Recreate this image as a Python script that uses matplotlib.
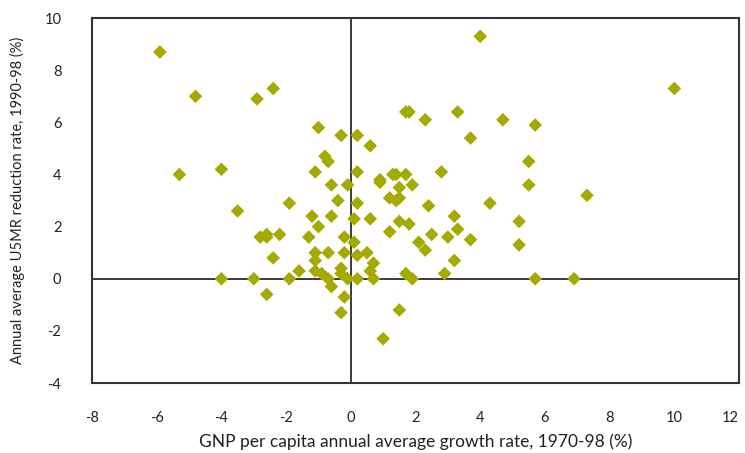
import matplotlib.pyplot as plt

# GNP growth 1970-98 vs U5MR reduction 1990-98, one point per country
gnp_growth = [
    -5.9, -4.8, -2.9, -2.4, -1.0, -0.3, 0.2, -0.8, -0.7, -1.1,
    -5.3, -4.0, 0.2, -0.6, -0.1, 4.0, 10.0, 1.7, 1.8, 2.3,
    3.3, 4.7, 5.7, 3.7, 0.6, 5.5, 1.3, 1.4, 1.7, 2.8,
    0.9, 0.9, 1.5, 1.9, 5.5, 7.3, -1.9, -3.5, -0.4, 0.2,
    -1.2, -0.6, -1.0, 0.1, -2.8, -2.6, -2.6, -2.2, -1.3, -0.2,
    0.1, -1.1, -0.7, -0.2, 0.2, -2.4, -1.1, -1.6, -1.1, -0.9,
    -0.3, -0.3, -0.7, -0.1, 0.2, -4.0, -3.0, -1.9, -0.6, -2.6,
    -0.2, -0.3, 1.2, 1.4, 1.5, 2.4, 4.3, 0.6, 3.2, 1.5,
    1.8, 5.2, 3.3, 1.2, 2.5, 3.0, 3.7, 2.1, 2.3, 5.2,
    0.5, 0.7, 0.6, 3.2, 1.7, 2.9, 0.7, 1.9, 5.7, 6.9,
    1.5, 1.0,
]
u5mr_reduction = [
    8.7, 7.0, 6.9, 7.3, 5.8, 5.5, 5.5, 4.7, 4.5, 4.1,
    4.0, 4.2, 4.1, 3.6, 3.6, 9.3, 7.3, 6.4, 6.4, 6.1,
    6.4, 6.1, 5.9, 5.4, 5.1, 4.5, 4.0, 4.0, 4.0, 4.1,
    3.8, 3.7, 3.5, 3.6, 3.6, 3.2, 2.9, 2.6, 3.0, 2.9,
    2.4, 2.4, 2.0, 2.3, 1.6, 1.7, 1.6, 1.7, 1.6, 1.6,
    1.4, 1.0, 1.0, 1.0, 0.9, 0.8, 0.7, 0.3, 0.3, 0.2,
    0.4, 0.2, 0.0, 0.0, 0.0, 0.0, 0.0, 0.0, -0.3, -0.6,
    -0.7, -1.3, 3.1, 3.0, 3.1, 2.8, 2.9, 2.3, 2.4, 2.2,
    2.1, 2.2, 1.9, 1.8, 1.7, 1.6, 1.5, 1.4, 1.1, 1.3,
    1.0, 0.6, 0.3, 0.7, 0.2, 0.2, 0.0, 0.0, 0.0, 0.0,
    -1.2, -2.3,
]

x_ticks = list(range(-8, 13, 2))
y_ticks = list(range(-4, 11, 2))

plt.rcParams['font.family'] = ['Lato', 'DejaVu Sans']
plt.rcParams['axes.unicode_minus'] = False

fig = plt.figure(figsize=(7.45, 4.53), dpi=100)
ax = fig.add_axes([0.1235, 0.1545, 0.8685, 0.8055])

# quadrant lines through the origin
ax.axhline(0, color='#1a1a1a', linewidth=1.2, zorder=1)
ax.axvline(0, color='#1a1a1a', linewidth=1.2, zorder=1)

ax.scatter(gnp_growth, u5mr_reduction, marker='D', s=48, color='#a4aa00',
           edgecolors='none', zorder=3)

ax.set_xlim(-8, 12)
ax.set_ylim(-4, 10)
ax.set_xticks(x_ticks)
ax.set_yticks(y_ticks)
ax.tick_params(length=0, labelsize=10.5, colors='#222222')
ax.tick_params(axis='x', pad=20)
ax.tick_params(axis='y', pad=22)

# keep the last x label inside the canvas
ax.get_xticklabels()[-1].set_horizontalalignment('right')
ax.get_xticklabels()[-1].set_x(12)

for spine in ax.spines.values():
    spine.set_color('#333333')
    spine.set_linewidth(1.5)

ax.set_xlabel('GNP per capita annual average growth rate, 1970-98 (%)',
              fontsize=12.5, color='#222222', labelpad=6)
ax.set_ylabel('Annual average U5MR reduction rate, 1990-98 (%)',
              fontsize=10.5, color='#222222', labelpad=14)

fig.savefig('out.png', dpi=100)
